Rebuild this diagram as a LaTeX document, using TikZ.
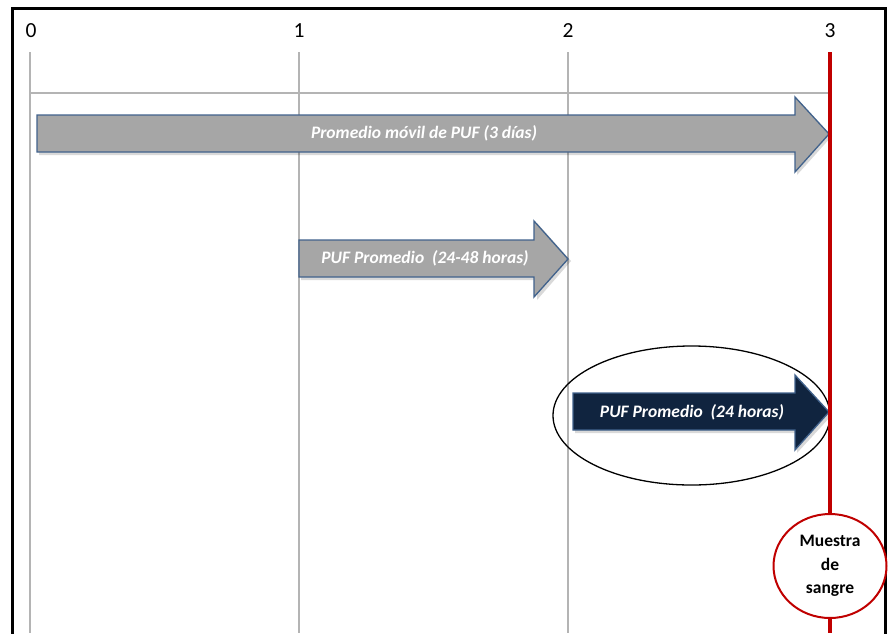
\documentclass[tikz,border=0pt]{standalone}
\usepackage{fontspec}
\setmainfont{Carlito}
\usetikzlibrary{shapes.geometric}
\definecolor{gridgray}{HTML}{B4B4B4}
\definecolor{arrowgray}{HTML}{A6A6A6}
\definecolor{arrowedge}{HTML}{41628C}
\definecolor{navy}{HTML}{10243F}
\definecolor{bloodred}{HTML}{C00000}
\tikzset{
  grid line/.style={draw=gridgray, line width=1.3pt},
  tick label/.style={font=\fontsize{21.5}{24}\selectfont, inner sep=0pt},
  arrow body/.style={draw=arrowedge, line width=1.3pt, line join=miter},
  arrow text/.style={font=\fontsize{17.5}{20}\selectfont\bfseries\itshape, text=white, inner sep=0pt},
  shadow/.style={fill=black, opacity=0.15},
}
\begin{document}
\begin{tikzpicture}[x=1pt, y=-1pt]
\useasboundingbox (0,0) rectangle (892,633);
\fill[white] (0,0) rectangle (892,633);
% frame
\draw[line width=3pt] (12,640) -- (12,8.5) -- (885.5,8.5) -- (885.5,640);
% tick labels
\node[tick label] (t0) at (31,31) {0};
\node[tick label] (t1) at (299,31) {1};
\node[tick label] (t2) at (568,31) {2};
\node[tick label] (t3) at (830,31) {3};
% grid
\coordinate (g0top) at (30,52);   \coordinate (g0bot) at (30,633);
\coordinate (g1top) at (299,52);  \coordinate (g1bot) at (299,633);
\coordinate (g2top) at (568,52);  \coordinate (g2bot) at (568,633);
\coordinate (g3top) at (830,52);  \coordinate (g3bot) at (830,633);
\draw[grid line] (g0top) -- (g0bot);
\draw[grid line] (g1top) -- (g1bot);
\draw[grid line] (g2top) -- (g2bot);
\draw[grid line] (30,93) -- (830,93);
% arrow 1
\fill[shadow] (39,117) -- (797,117) -- (797,99) -- (832,136) -- (797,175) -- (797,155) -- (39,155) -- cycle;
\filldraw[arrow body, fill=arrowgray] (37,115) -- (795,115) -- (795,97) -- (829,134) -- (795,172) -- (795,152) -- (37,152) -- cycle;
\node[arrow text] (a1) at (424,133) {Promedio móvil de PUF (3 días)};
% arrow 2
\fill[shadow] (301,242) -- (537,242) -- (537,223) -- (571,261) -- (537,300) -- (537,280) -- (301,280) -- cycle;
\filldraw[arrow body, fill=arrowgray] (299,240) -- (534,240) -- (534,221) -- (568,259) -- (534,297) -- (534,277) -- (299,277) -- cycle;
\node[arrow text] (a2) at (425,258) {PUF Promedio\ \ (24-48 horas)};
% arrow 3
\fill[shadow] (575,395) -- (797,395) -- (797,377) -- (832,415) -- (797,453) -- (797,433) -- (575,433) -- cycle;
\filldraw[arrow body, fill=navy] (573,393) -- (795,393) -- (795,375) -- (829,412) -- (795,450) -- (795,430) -- (573,430) -- cycle;
\node[arrow text] (a3) at (692,412) {PUF Promedio\ \ (24 horas)};
% ellipse
\node[draw=black, line width=1.3pt, ellipse, minimum width=277pt, minimum height=139pt, inner sep=0pt] (oval) at (691.5,415.5) {};
% red line
\draw[bloodred, line width=4pt] (g3top) -- (g3bot);
% blood sample circle
\node[draw=bloodred, fill=white, line width=2pt, ellipse, minimum width=113pt, minimum height=104pt, inner sep=0pt,
      align=center, font=\fontsize{17.5}{23.5}\selectfont\bfseries] (blood) at (830,566) {Muestra\\de\\sangre};
\end{tikzpicture}
\end{document}
